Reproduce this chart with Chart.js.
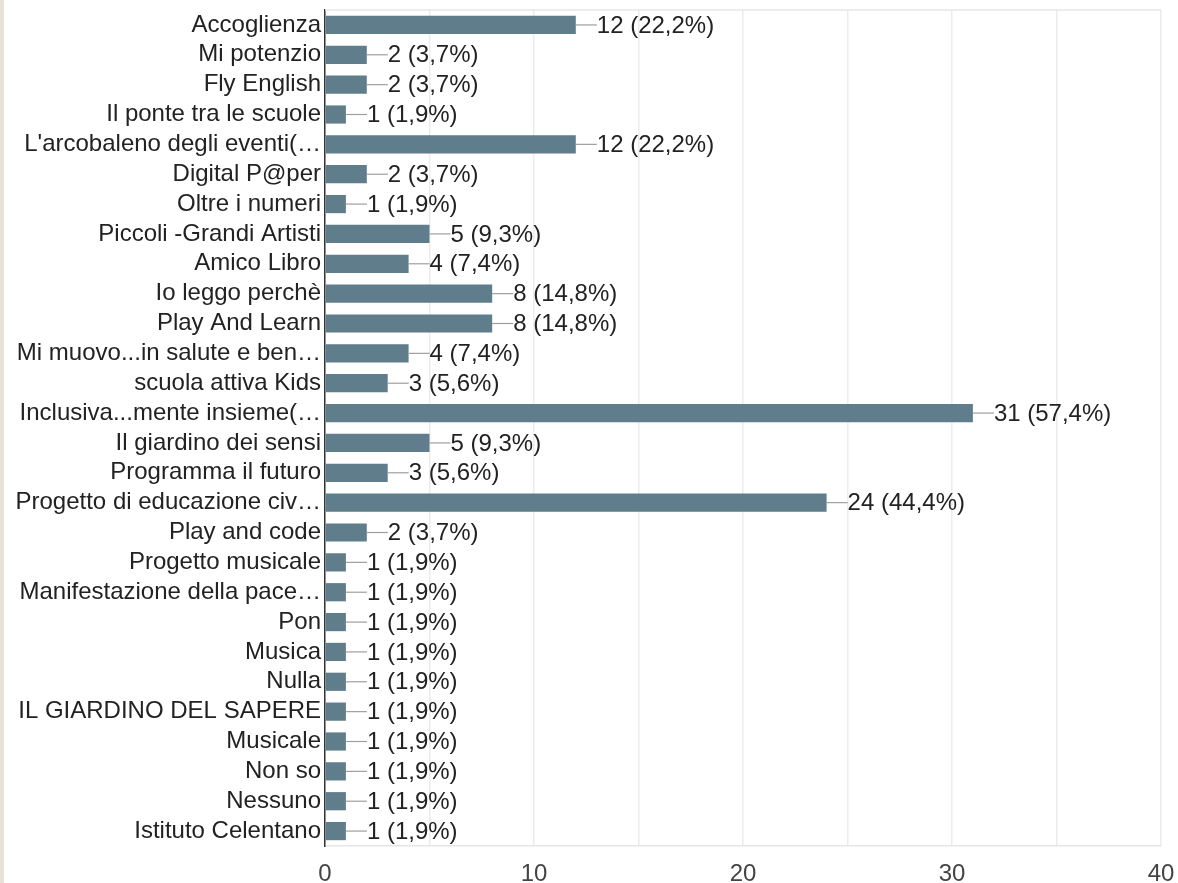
<!DOCTYPE html>
<html>
<head>
<meta charset="utf-8">
<script src="https://cdn.jsdelivr.net/npm/chart.js@4.4.1/dist/chart.umd.min.js"></script>
<style>
  html, body { margin: 0; padding: 0; background: #e8e1d6; }
  #wrap { position: absolute; left: 4px; top: 0; width: 1174px; height: 883px; background: #fff; }
</style>
</head>
<body>
<div id="wrap"><canvas id="grafico" width="1174" height="883"></canvas></div>
<script>
// Risposte per progetto
const categorie = [
  'Accoglienza', 'Mi potenzio', 'Fly English', 'Il ponte tra le scuole',
  "L'arcobaleno degli eventi(…", 'Digital P@per', 'Oltre i numeri',
  'Piccoli -Grandi Artisti', 'Amico Libro', 'Io leggo perchè', 'Play And Learn',
  'Mi muovo...in salute e ben…', 'scuola attiva Kids', 'Inclusiva...mente insieme(…',
  'Il giardino dei sensi', 'Programma il futuro', 'Progetto di educazione civ…',
  'Play and code', 'Progetto musicale', 'Manifestazione della pace…', 'Pon',
  'Musica', 'Nulla', 'IL GIARDINO DEL SAPERE', 'Musicale', 'Non so', 'Nessuno',
  'Istituto Celentano'
];
const valori = [12, 2, 2, 1, 12, 2, 1, 5, 4, 8, 8, 4, 3, 31, 5, 3, 24, 2, 1, 1, 1, 1, 1, 1, 1, 1, 1, 1];
const percentuali = ['22,2%', '3,7%', '3,7%', '1,9%', '22,2%', '3,7%', '1,9%', '9,3%', '7,4%',
  '14,8%', '14,8%', '7,4%', '5,6%', '57,4%', '9,3%', '5,6%', '44,4%', '3,7%', '1,9%', '1,9%',
  '1,9%', '1,9%', '1,9%', '1,9%', '1,9%', '1,9%', '1,9%', '1,9%'];
const tickX = [0, 10, 20, 30, 40];

const FONT = '"Liberation Sans", Arial, sans-serif';

const etichette = {
  id: 'etichette',
  afterDatasetsDraw(chart) {
    const ctx = chart.ctx;
    const meta = chart.getDatasetMeta(0);
    ctx.save();
    ctx.font = '24px ' + FONT;
    ctx.textBaseline = 'middle';
    meta.data.forEach((bar, i) => {
      ctx.strokeStyle = '#9e9e9e';
      ctx.lineWidth = 1.2;
      ctx.beginPath();
      ctx.moveTo(bar.x, bar.y);
      ctx.lineTo(bar.x + 21, bar.y);
      ctx.stroke();
      ctx.fillStyle = '#222';
      ctx.fillText(valori[i] + ' (' + percentuali[i] + ')', bar.x + 21, bar.y + 1);
    });
    ctx.restore();
  }
};

const bordo = {
  id: 'bordo',
  beforeDatasetsDraw(chart) {
    const a = chart.chartArea;
    const ctx = chart.ctx;
    ctx.save();
    ctx.strokeStyle = '#e6e6e6';
    ctx.lineWidth = 1.5;
    ctx.beginPath();
    ctx.moveTo(a.left, a.top);
    ctx.lineTo(a.right, a.top);
    ctx.stroke();
    ctx.restore();
  }
};

new Chart(document.getElementById('grafico').getContext('2d'), {
  type: 'bar',
  data: {
    labels: categorie,
    datasets: [{
      data: valori,
      backgroundColor: '#607d8b',
      barPercentage: 0.61,
      categoryPercentage: 1
    }]
  },
  options: {
    indexAxis: 'y',
    responsive: false,
    animation: false,
    devicePixelRatio: 1,
    layout: { padding: { top: 10, right: 17, bottom: 0, left: 0 } },
    plugins: { legend: { display: false }, tooltip: { enabled: false } },
    scales: {
      x: {
        min: 0,
        max: 40,
        afterBuildTicks(axis) {
          const t = [];
          for (let v = 0; v <= 40; v += 5) t.push({ value: v });
          axis.ticks = t;
        },
        afterFit(axis) {
          axis.height = 37;
          axis.paddingLeft = 0;
          axis.paddingRight = 0;
        },
        ticks: {
          autoSkip: false,
          maxRotation: 0,
          padding: 14,
          color: '#444',
          font: { family: FONT, size: 24 },
          callback: v => tickX.includes(v) ? String(v) : ''
        },
        grid: { color: '#ececec', lineWidth: 1.5, drawTicks: false },
        border: { color: '#e6e6e6', width: 1.5 }
      },
      y: {
        afterFit(axis) {
          axis.width = 321;
          axis.paddingTop = 0;
          axis.paddingBottom = 0;
        },
        ticks: {
          autoSkip: false,
          padding: 4,
          color: '#222',
          font: { family: FONT, size: 24 }
        },
        grid: { display: false, drawTicks: false },
        border: { color: '#333', width: 1.5 }
      }
    }
  },
  plugins: [bordo, etichette]
});
</script>
</body>
</html>
